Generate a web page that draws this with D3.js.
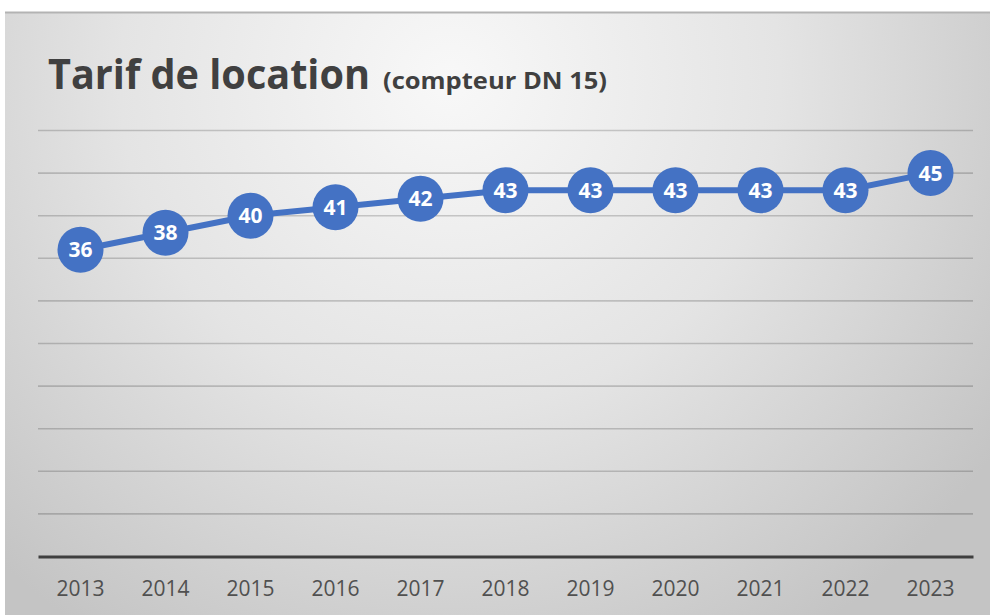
<!DOCTYPE html>
<html>
<head>
<meta charset="utf-8">
<script src="https://cdn.jsdelivr.net/npm/d3@7.9.0/dist/d3.min.js"></script>
<style>
  html, body { margin: 0; padding: 0; background: #fff; }
  svg { display: block; }
</style>
</head>
<body>
<svg width="990" height="615"></svg>
<script>
// chart data
const years = ["2013", "2014", "2015", "2016", "2017", "2018", "2019", "2020", "2021", "2022", "2023"];
const tarifs = [36, 38, 40, 41, 42, 43, 43, 43, 43, 43, 45];
const gridTicks = [0, 5, 10, 15, 20, 25, 30, 35, 40, 45, 50];

const titleMain = "Tarif de location";
const titleSub = "(compteur DN 15)";

let svg = d3.select("svg");
const blue = "#4472c4";
const font = "'Open Sans', Lato, sans-serif";

// background panel with radial grey gradient
let defs = svg.append("defs");
let grad = defs.append("radialGradient")
    .attr("id", "bg")
    .attr("gradientUnits", "userSpaceOnUse")
    .attr("cx", 450).attr("cy", 80).attr("r", 660);
grad.append("stop").attr("offset", "0").attr("stop-color", "#f8f8f8");
grad.append("stop").attr("offset", "0.5").attr("stop-color", "#e4e4e4");
grad.append("stop").attr("offset", "1").attr("stop-color", "#c4c4c4");

svg.append("rect")
    .attr("x", 5).attr("y", 12)
    .attr("width", 985).attr("height", 603)
    .attr("fill", "url(#bg)");
svg.append("line")
    .attr("x1", 5).attr("x2", 990)
    .attr("y1", 12.5).attr("y2", 12.5)
    .attr("stroke", "#b3b3b3")
    .attr("stroke-width", 2);

// title
let title = svg.append("text")
    .attr("x", 48).attr("y", 89)
    .attr("fill", "#404040")
    .style("font-family", font)
    .style("font-weight", "bold");
let tMain = title.append("tspan").style("font-size", "42px").text(titleMain);
let tSub = title.append("tspan").attr("dx", 13).style("font-size", "23px").text(titleSub);

// keep the reference's title widths
tMain.attr("textLength", 322).attr("lengthAdjust", "spacingAndGlyphs");
tSub.attr("textLength", 224).attr("lengthAdjust", "spacingAndGlyphs");

// scales
let x = d3.scaleBand().domain(years).range([38, 973]);
let y = d3.scaleLinear().domain([0, 50]).range([556.5, 130.5]);

// gridlines
svg.append("g")
    .selectAll("line")
    .data(gridTicks.filter(d => d > 0))
    .join("line")
    .attr("x1", 38).attr("x2", 973)
    .attr("y1", d => y(d)).attr("y2", d => y(d))
    .attr("stroke", "#000")
    .attr("stroke-opacity", 0.18)
    .attr("stroke-width", 1.6);

// x axis
let xAxis = svg.append("g")
    .attr("transform", `translate(0,${y(0)})`)
    .call(d3.axisBottom(x).tickSize(0).tickPadding(25));
xAxis.select(".domain")
    .attr("stroke", "#3f3f3f")
    .attr("stroke-width", 3.2);
xAxis.selectAll("text")
    .attr("fill", "#505050")
    .style("font-family", font)
    .style("font-size", "21px");

// line
let line = d3.line()
    .x((d, i) => x(years[i]) + x.bandwidth() / 2)
    .y(d => y(d));

svg.append("path")
    .datum(tarifs)
    .attr("d", line)
    .attr("fill", "none")
    .attr("stroke", blue)
    .attr("stroke-width", 6);

// markers and value labels
let pts = svg.append("g")
    .selectAll("g")
    .data(tarifs)
    .join("g")
    .attr("transform", (d, i) => `translate(${x(years[i]) + x.bandwidth() / 2},${y(d)})`);

pts.append("circle")
    .attr("r", 23)
    .attr("fill", blue);

pts.append("text")
    .attr("text-anchor", "middle")
    .attr("dy", "0.36em")
    .attr("fill", "#fff")
    .style("font-family", font)
    .style("font-weight", "bold")
    .style("font-size", "21px")
    .text(d => d);
</script>
</body>
</html>
